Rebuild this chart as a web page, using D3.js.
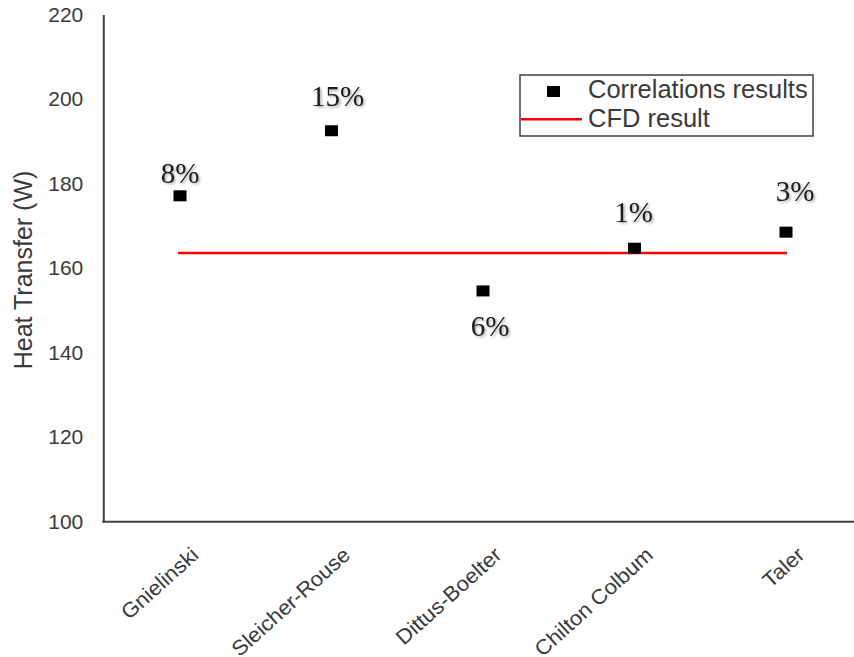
<!DOCTYPE html>
<html>
<head>
<meta charset="utf-8">
<script src="https://cdn.jsdelivr.net/npm/d3@7"></script>
<style>
  html, body { margin: 0; padding: 0; background: #fff; }
  svg { display: block; }
</style>
</head>
<body>
<svg id="chart" width="854" height="657"></svg>
<script>
// ---- data ----
const categories = ["Gnielinski", "Sleicher-Rouse", "Dittus-Boelter", "Chilton Colbum", "Taler"];
const correlationValues = [177.1, 192.5, 154.6, 164.7, 168.5];
const deviationLabels = ["8%", "15%", "6%", "1%", "3%"];
const cfdValue = 163.6;
const yTicks = [100, 120, 140, 160, 180, 200, 220];
const seriesNames = ["Correlations results", "CFD result"];
const yTitle = "Heat Transfer (W)";

// ---- layout ----
const svg = d3.select("#chart");
const axisColor = "#404040";
const textColor = "#3a3a3a";

const y = d3.scaleLinear().domain([100, 220]).range([521.7, 14.5]);
const x = d3.scalePoint().domain(categories).range([180, 786]);

// drop shadow filter for data labels
const defs = svg.append("defs");
const f = defs.append("filter").attr("id", "shadow").attr("x", "-20%").attr("y", "-20%").attr("width", "150%").attr("height", "150%");
f.append("feDropShadow").attr("dx", 1.5).attr("dy", 1.5).attr("stdDeviation", 1.2)
  .attr("flood-color", "#000").attr("flood-opacity", 0.35);

// y axis
const yAxis = d3.axisLeft(y).tickValues(yTicks).tickSize(0).tickPadding(20);
const gy = svg.append("g").attr("transform", "translate(103.3,0)").call(yAxis);
gy.select(".domain").attr("stroke", axisColor).attr("stroke-width", 2);
gy.selectAll("text")
  .attr("fill", textColor)
  .style("font-family", "'Liberation Sans', Arial, sans-serif")
  .style("font-size", "21px");

// x axis line
svg.append("line")
  .attr("x1", 102.3).attr("x2", 854)
  .attr("y1", y(100)).attr("y2", y(100))
  .attr("stroke", axisColor).attr("stroke-width", 2);

// x tick labels
svg.append("g").selectAll("text")
  .data(categories)
  .join("text")
  .attr("transform", d => `translate(${x(d) + 20},${y(100) + 35}) rotate(-42) scale(1.05,1)`)
  .attr("text-anchor", "end")
  .attr("fill", textColor)
  .style("font-family", "'Liberation Sans', Arial, sans-serif")
  .style("font-size", "21px")
  .text(d => d);

// y axis title
svg.append("text")
  .attr("transform", `translate(32,${(168 + 372) / 2}) rotate(-90)`)
  .attr("text-anchor", "middle")
  .attr("fill", textColor)
  .style("font-family", "'Liberation Sans', Arial, sans-serif")
  .style("font-size", "25px")
  .text(yTitle);

// CFD line
svg.append("line")
  .attr("x1", x(categories[0]) - 2)
  .attr("x2", x(categories[categories.length - 1]) + 1)
  .attr("y1", y(cfdValue)).attr("y2", y(cfdValue))
  .attr("stroke", "#ff0000").attr("stroke-width", 2.5);

// markers
const pts = categories.map((c, i) => ({ c, v: correlationValues[i], lab: deviationLabels[i] }));
svg.append("g").selectAll("rect")
  .data(pts)
  .join("rect")
  .attr("x", d => x(d.c) - 6.5)
  .attr("y", d => y(d.v) - 5.5)
  .attr("width", 13).attr("height", 11)
  .attr("fill", "#000");

// data labels (label nudges relative to the marker)
const labelNudge = [[0, -13], [6, -25], [7, 45], [-1, -26], [9, -31]];
svg.append("g").selectAll("text")
  .data(pts)
  .join("text")
  .attr("x", (d, i) => x(d.c) + labelNudge[i][0])
  .attr("y", (d, i) => y(d.v) + labelNudge[i][1])
  .attr("text-anchor", "middle")
  .attr("fill", "#1a1a1a")
  .attr("filter", "url(#shadow)")
  .style("font-family", "'Liberation Serif', 'Times New Roman', serif")
  .style("font-size", "29px")
  .text(d => d.lab);

// legend
const lg = svg.append("g");
lg.append("rect")
  .attr("x", 520).attr("y", 75).attr("width", 293).attr("height", 61)
  .attr("fill", "#fff").attr("stroke", axisColor).attr("stroke-width", 1.5);
lg.append("rect")
  .attr("x", 547).attr("y", 86).attr("width", 13).attr("height", 11).attr("fill", "#000");
lg.append("line")
  .attr("x1", 521).attr("x2", 582).attr("y1", 119.3).attr("y2", 119.3)
  .attr("stroke", "#ff0000").attr("stroke-width", 2.5);
lg.selectAll("text.lt")
  .data(seriesNames)
  .join("text")
  .attr("class", "lt")
  .attr("x", 588)
  .attr("y", (d, i) => 98 + i * 29)
  .attr("fill", textColor)
  .style("font-family", "'Liberation Sans', Arial, sans-serif")
  .style("font-size", "25.5px")
  .text(d => d);
</script>
</body>
</html>
